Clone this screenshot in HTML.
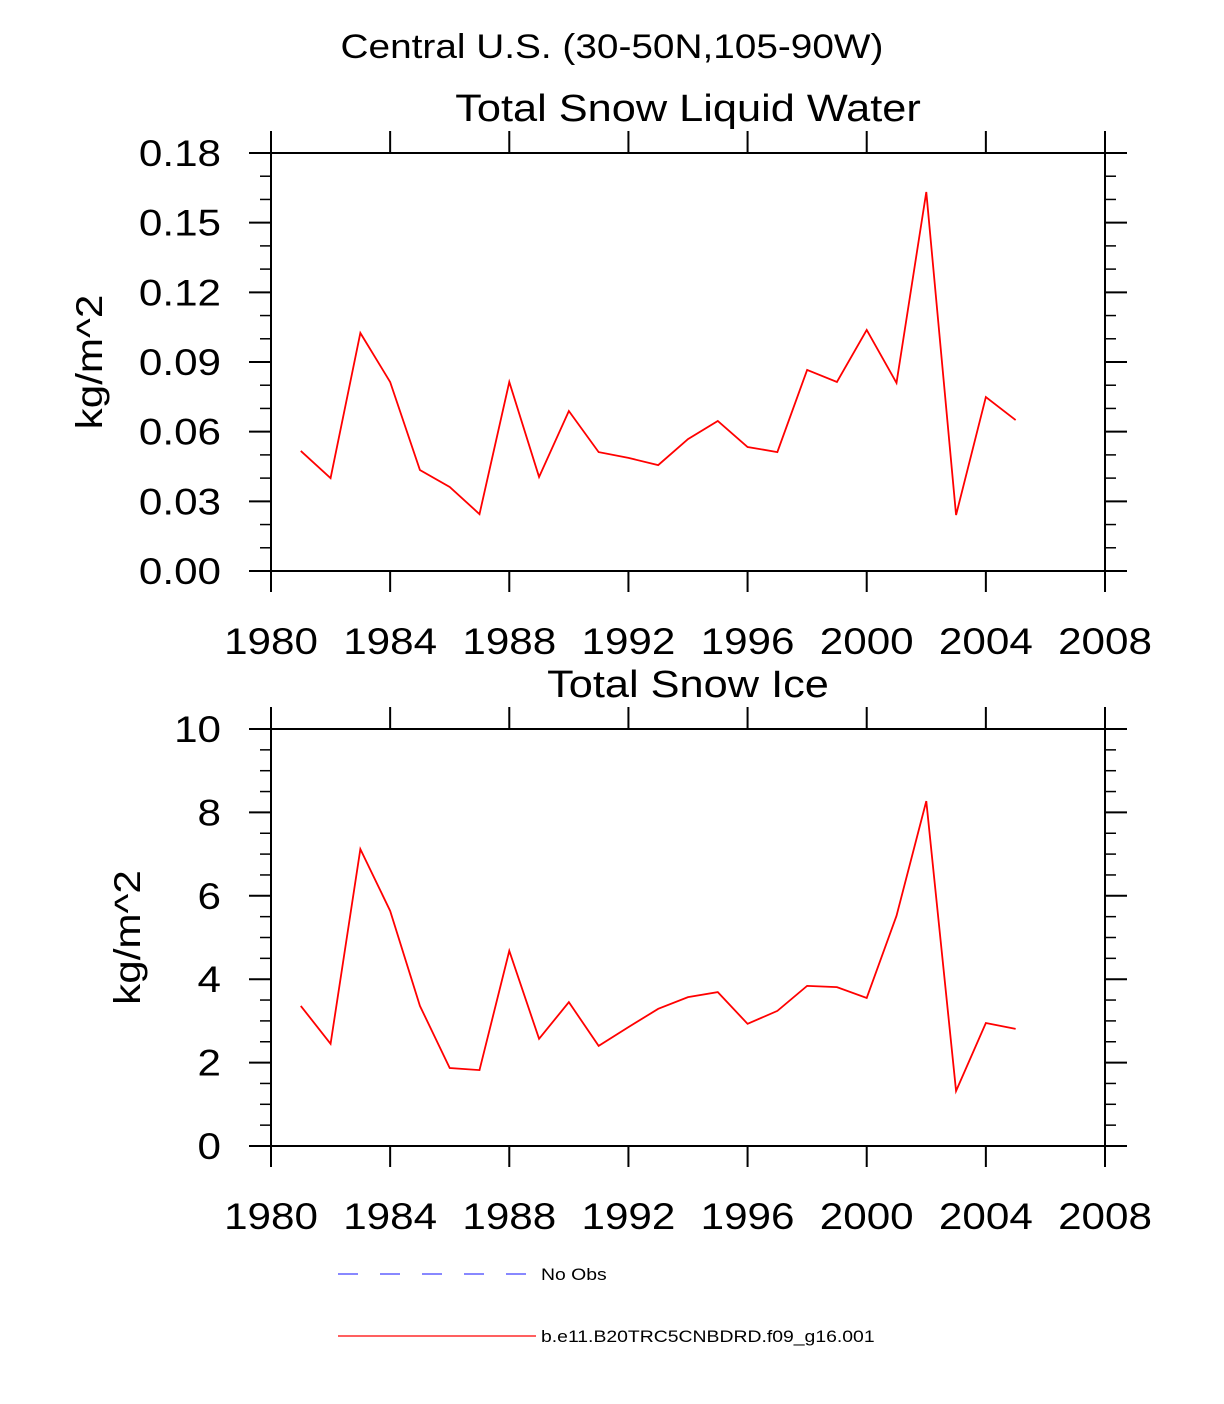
<!DOCTYPE html>
<html><head><meta charset="utf-8"><style>
body{margin:0;background:#fff}
svg{display:block;font-family:"Liberation Sans",sans-serif}
</style></head><body>
<svg id="chart" width="1224" height="1404" viewBox="0 0 1224 1404" xmlns="http://www.w3.org/2000/svg">
<text class="st" x="612" y="58" text-anchor="middle" font-size="34">Central U.S. (30-50N,105-90W)</text>
<g id="p1"></g>
<g id="p2"></g>
<g>
<line x1="338" y1="1274" x2="528" y2="1274" stroke="#4040ff" stroke-width="1.2" stroke-dasharray="20,22"/>
<text class="st" x="541" y="1280" font-size="17">No Obs</text>
<line x1="338" y1="1336" x2="536" y2="1336" stroke="#f00" stroke-width="1.2"/>
<text class="st" x="541" y="1342" font-size="17">b.e11.B20TRC5CNBDRD.f09_g16.001</text>
</g>
</svg>
<script>
const years=[1981,1982,1983,1984,1985,1986,1987,1988,1989,1990,1991,1992,1993,1994,1995,1996,1997,1998,1999,2000,2001,2002,2003,2004,2005];
const liquidWater=[0.0517,0.040,0.1025,0.0814,0.0435,0.0362,0.0245,0.0814,0.0405,0.0689,0.0512,0.0487,0.0456,0.0568,0.0646,0.0534,0.0512,0.0866,0.0814,0.1038,0.081,0.1632,0.0241,0.0749,0.065];
const snowIce=[3.36,2.45,7.12,5.64,3.36,1.87,1.82,4.68,2.57,3.45,2.40,2.85,3.29,3.57,3.69,2.93,3.24,3.84,3.81,3.55,5.52,8.27,1.32,2.95,2.81];
const xTicks=[1980,1984,1988,1992,1996,2000,2004,2008];
const yTicks1=["0.00","0.03","0.06","0.09","0.12","0.15","0.18"];
const yTicks2=["0","2","4","6","8","10"];
const NS="http://www.w3.org/2000/svg";
function mk(p,t,a){const e=document.createElementNS(NS,t);for(const k in a)e.setAttribute(k,a[k]);p.appendChild(e);return e;}
function panel(g,title,top,bottom,ymax,yTicks,minorStep,data,ylabelX){
  const L=271,R=1105;
  const xs=v=>L+(v-1980)/28*(R-L);
  const ys=v=>bottom-v/ymax*(bottom-top);
  const t=mk(g,'text',{x:688,y:top-32,'text-anchor':'middle','font-size':38,class:'st'});t.textContent=title;
  
  
  const box=mk(g,'rect',{x:L,y:top,width:R-L,height:bottom-top,fill:'none',stroke:'#000','stroke-width':2});
  
  
  for(let v=0;v<=ymax+1e-9;v+=minorStep){
    const y=ys(v);const isMaj=yTicks.some(s=>Math.abs(parseFloat(s)-v)<1e-9);
    const len=isMaj?22:11;
    const a=mk(g,'line',{x1:L-len,y1:y,x2:L,y2:y,stroke:'#000','stroke-width':isMaj?2:1.5});
    
    
    const b=mk(g,'line',{x1:R,y1:y,x2:R+len,y2:y,stroke:'#000','stroke-width':isMaj?2:1.5});
    
    
  }
  yTicks.forEach(s=>{const e=mk(g,'text',{x:221,y:ys(parseFloat(s))+13,'text-anchor':'end','font-size':37,class:'st'});e.textContent=s;
    
    });
  xTicks.forEach(v=>{const x=xs(v);
    const a=mk(g,'line',{x1:x,y1:bottom,x2:x,y2:bottom+21,stroke:'#000','stroke-width':2});
    
    
    const b=mk(g,'line',{x1:x,y1:top-22,x2:x,y2:top,stroke:'#000','stroke-width':2});
    
    
    const e=mk(g,'text',{x:x,y:bottom+83,'text-anchor':'middle','font-size':37,class:'st'});e.textContent=v;
    
    });
  const cy=(top+bottom)/2;
  const yl=mk(g,'text',{x:ylabelX,y:cy,'text-anchor':'middle','font-size':37,class:'st',transform:`rotate(-90 ${ylabelX} ${cy})`});yl.textContent='kg/m^2';
  
  
  const pts=years.map((yr,i)=>xs(yr)+','+ys(data[i])).join(' ');
  const pl=mk(g,'polyline',{points:pts,fill:'none',stroke:'#f00','stroke-width':1.8});
  
  
}
panel(document.getElementById('p1'),'Total Snow Liquid Water',153,571,0.18,yTicks1,0.01,liquidWater,102);
panel(document.getElementById('p2'),'Total Snow Ice',729,1146,10,yTicks2,0.5,snowIce,140);
document.querySelectorAll('text.st').forEach(e=>{const w=e.getComputedTextLength();e.setAttribute('textLength',w*1.14);e.setAttribute('lengthAdjust','spacingAndGlyphs');});
</script>
</body></html>
